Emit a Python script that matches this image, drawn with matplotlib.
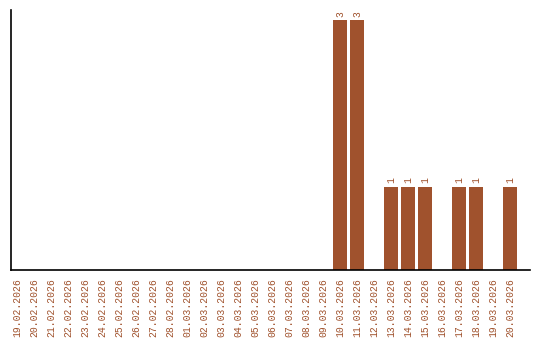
import matplotlib
matplotlib.use("Agg")
import matplotlib.pyplot as plt

dates = ["19.02.2026", "20.02.2026", "21.02.2026", "22.02.2026", "23.02.2026",
         "24.02.2026", "25.02.2026", "26.02.2026", "27.02.2026", "28.02.2026",
         "01.03.2026", "02.03.2026", "03.03.2026", "04.03.2026", "05.03.2026",
         "06.03.2026", "07.03.2026", "08.03.2026", "09.03.2026", "10.03.2026",
         "11.03.2026", "12.03.2026", "13.03.2026", "14.03.2026", "15.03.2026",
         "16.03.2026", "17.03.2026", "18.03.2026", "19.03.2026", "20.03.2026"]
counts = [0, 0, 0, 0, 0, 0, 0, 0, 0, 0,
          0, 0, 0, 0, 0, 0, 0, 0, 0, 3,
          3, 0, 1, 1, 1, 0, 1, 1, 0, 1]

color = "#A0522D"
font = "Liberation Mono"

fig = plt.figure(figsize=(5.4, 3.4), dpi=100)
ax = fig.add_axes([11 / 540, 70 / 340, 519 / 540, 260 / 340])

x = list(range(len(dates)))
ax.bar(x, counts, width=0.82, color=color)

for xi, c in zip(x, counts):
    if c > 0:
        ax.text(xi, c + 0.04, str(c), rotation=90, ha="center", va="bottom",
                fontsize=7, color=color, family=font)

ax.set_xlim(-0.35, 30.18)
ax.set_ylim(0, 3.12)
ax.set_xticks(x)
ax.set_xticklabels(dates, rotation=90, fontsize=7, color=color, family=font)
ax.tick_params(axis="x", length=0, pad=6)
ax.set_yticks([])

for s in ["top", "right"]:
    ax.spines[s].set_visible(False)
ax.spines["left"].set_linewidth(1.2)
ax.spines["bottom"].set_linewidth(1.2)

fig.savefig("out.png", dpi=100)
